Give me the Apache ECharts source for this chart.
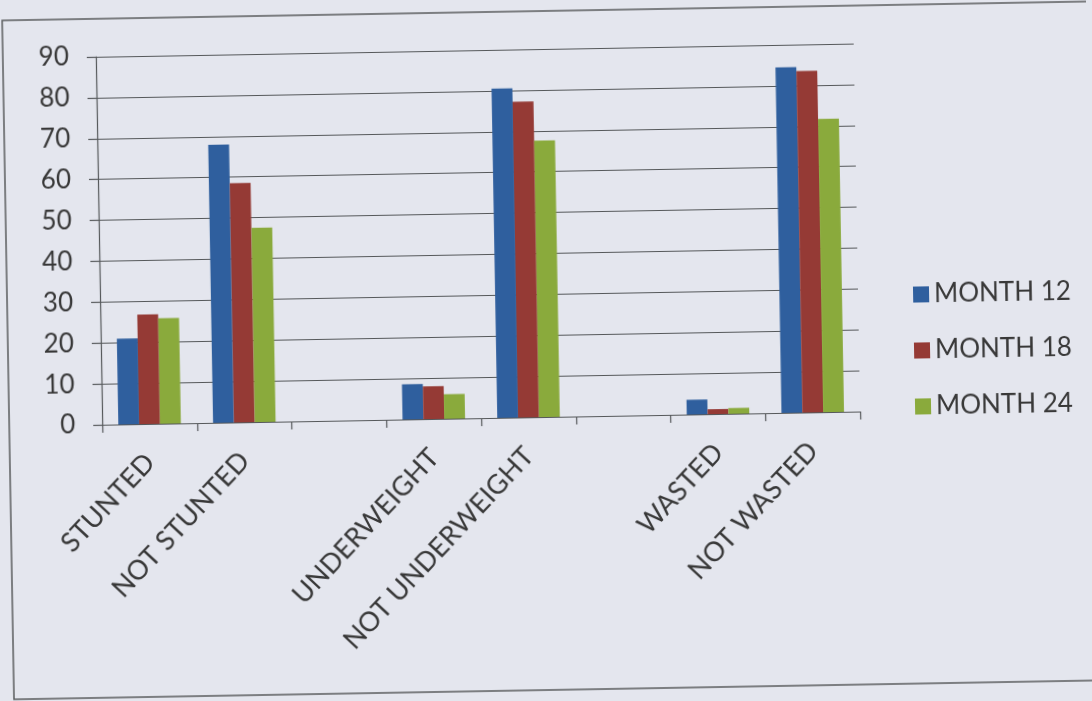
<!DOCTYPE html>
<html>
<head>
<meta charset="utf-8">
<script src="https://cdn.jsdelivr.net/npm/echarts@6/dist/echarts.min.js"></script>
<style>
  html, body { margin: 0; padding: 0; background: #e4e6ee; overflow: hidden; }
  #chart { width: 1092px; height: 701px; transform: rotate(-1deg); transform-origin: 546px 350px; }
</style>
</head>
<body>
<div id="chart"></div>
<script>
// categories (blank slots separate the three groups, as in the original)
const categories = ['STUNTED', 'NOT STUNTED', '', 'UNDERWEIGHT', 'NOT UNDERWEIGHT', '', 'WASTED', 'NOT WASTED'];
const month12 = [21, 68, null, 8.6, 80.5, null, 3.6, 84.5];
const month18 = [26.8, 58.5, null, 8, 77.2, null, 1.2, 83.5];
const month24 = [25.8, 47.5, null, 6, 67.6, null, 1.4, 71.7];
const yTicks = { min: 0, max: 90, interval: 10 };

const ink = '#383838';
const gridLine = '#55585a';

const chart = echarts.init(document.getElementById('chart'), null, { renderer: 'canvas' });

const bar = (name, data, color) => ({
  name,
  type: 'bar',
  data,
  barGap: '0%',
  barCategoryGap: '34%',
  itemStyle: { color },
  emphasis: { disabled: true }
});

chart.setOption({
  animation: false,
  backgroundColor: 'transparent',
  textStyle: { fontFamily: 'Lato' },
  grid: { left: 101, right: 233, top: 49, bottom: 284, containLabel: false },
  legend: {
    orient: 'vertical',
    left: 909,
    top: 283,
    itemWidth: 16,
    itemHeight: 16,
    itemGap: 30,
    icon: 'rect',
    textStyle: { color: ink, fontSize: 26, lineHeight: 26, fontFamily: 'Lato' },
    data: ['MONTH 12', 'MONTH 18', 'MONTH 24']
  },
  xAxis: {
    type: 'category',
    data: categories,
    axisLine: { lineStyle: { color: gridLine, width: 1.2 } },
    axisTick: { show: true, length: 8, lineStyle: { color: gridLine, width: 1.2 } },
    axisLabel: {
      rotate: 46,
      interval: 0,
      margin: 34,
      color: ink,
      fontSize: 27,
      fontFamily: 'Lato'
    },
    splitLine: { show: false }
  },
  yAxis: {
    type: 'value',
    min: yTicks.min,
    max: yTicks.max,
    interval: yTicks.interval,
    axisLine: { show: true, lineStyle: { color: gridLine, width: 1.2 } },
    axisTick: { show: true, length: 9, lineStyle: { color: gridLine, width: 1.2 } },
    axisLabel: { color: ink, fontSize: 26, margin: 27, fontFamily: 'Lato' },
    splitLine: { show: true, lineStyle: { color: gridLine, width: 1.2 } }
  },
  graphic: [{
    type: 'rect',
    shape: { x: 8, y: 11, width: 1300, height: 679 },
    style: { fill: 'none', stroke: '#5a5c5e', lineWidth: 1.5 },
    silent: true
  }],
  series: [
    bar('MONTH 12', month12, '#2f5f9e'),
    bar('MONTH 18', month18, '#953a35'),
    bar('MONTH 24', month24, '#8aaa3c')
  ]
});
</script>
</body>
</html>
